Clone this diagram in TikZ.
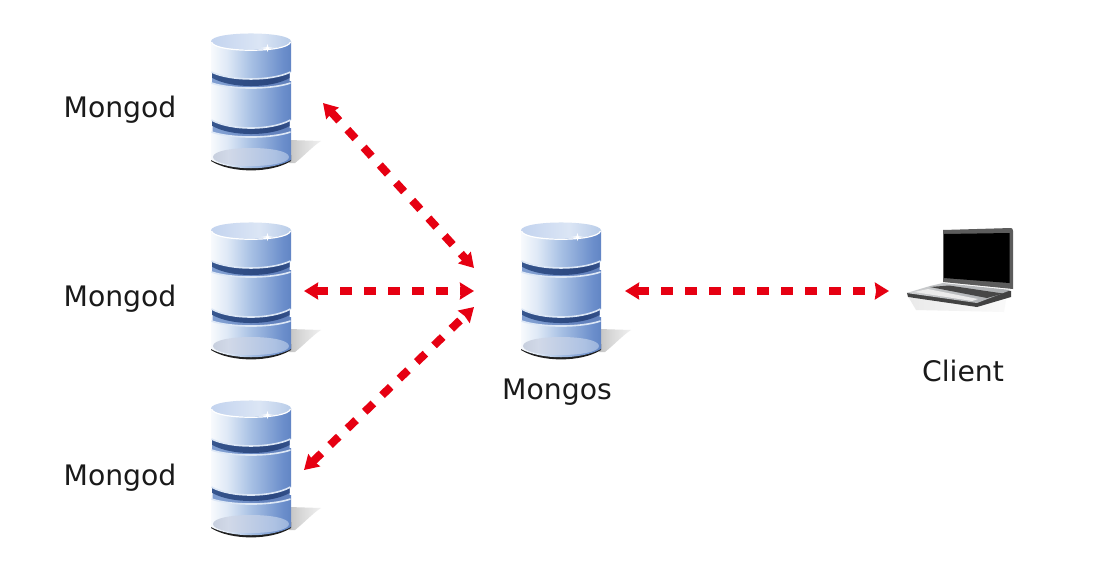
\documentclass[tikz,border=0pt]{standalone}
\usepackage{fontspec}
\setmainfont{DejaVu Sans}
\usetikzlibrary{arrows.meta}
\definecolor{linkred}{HTML}{E60012}
\definecolor{labelink}{HTML}{1A1A1A}
\definecolor{rimlight}{HTML}{DCE7F6}
\definecolor{darkgroove}{HTML}{2F4F86}
\pgfdeclarehorizontalshading{cylbody}{100bp}{
 rgb(0bp)=(.545,.663,.855); rgb(10bp)=(.776,.84,.937); rgb(22bp)=(1,1,1); rgb(35bp)=(.875,.914,.965);
 rgb(50bp)=(.655,.753,.894); rgb(70bp)=(.42,.557,.796); rgb(88bp)=(.29,.435,.71); rgb(100bp)=(.482,.608,.824)}
\pgfdeclarehorizontalshading{cyltop}{100bp}{
 rgb(0bp)=(.69,.776,.91); rgb(30bp)=(.78,.84,.94); rgb(55bp)=(.86,.9,.96); rgb(80bp)=(.69,.776,.9); rgb(100bp)=(.56,.67,.85)}
\pgfdeclarehorizontalshading{cylgroove}{100bp}{
 rgb(0bp)=(.5,.62,.82); rgb(30bp)=(.5,.62,.82); rgb(60bp)=(.4,.52,.75); rgb(100bp)=(.36,.49,.72)}
\pgfdeclarehorizontalshading{cylcrescent}{100bp}{
 rgb(0bp)=(.32,.45,.68); rgb(30bp)=(.2,.32,.54); rgb(65bp)=(.17,.28,.5); rgb(100bp)=(.28,.4,.64)}
\pgfdeclarehorizontalshading{cylfloor}{100bp}{
 rgb(0bp)=(.69,.72,.78); rgb(35bp)=(.82,.85,.91); rgb(65bp)=(.68,.76,.89); rgb(100bp)=(.42,.56,.79)}
\pgfdeclarehorizontalshading{cylshadow}{100bp}{
 rgb(0bp)=(.66,.66,.66); rgb(45bp)=(.85,.85,.85); rgb(90bp)=(.99,.99,.99); rgb(100bp)=(1,1,1)}
\pgfdeclarehorizontalshading{lapbase}{100bp}{
 rgb(0bp)=(.9,.9,.9); rgb(45bp)=(.74,.75,.76); rgb(100bp)=(.6,.61,.62)}
\newcommand{\cylband}[3]{%
 (0,#1) -- (0,#2) .. controls (20,#2+#3) and (60,#2+#3) .. (80,#2) -- (80,#1) -- cycle}
\newcommand{\cylnotch}[3]{%
 (1.5,#1) -- (1.5,#2) .. controls (20,#2+#3) and (60,#2+#3) .. (78.5,#2) -- (78.5,#1) -- cycle}
\newcommand{\cylarc}[2]{%
 (0.5,#1) .. controls (20,#1+#2) and (60,#1+#2) .. (79.5,#1)}
\tikzset{
 x=0.75pt,y=-0.75pt,
 link/.style={draw=linkred,line width=6pt,dash pattern=on 9pt off 9pt,
  {Stealth[length=10.5pt,width=12.5pt,inset=0.8pt,fill=linkred]}-{Stealth[length=10.5pt,width=12.5pt,inset=0.8pt,fill=linkred]}},
 lbl/.style={text=labelink,font=\fontsize{21.2}{25}\selectfont,anchor=base,inner sep=0pt},
 hitbox/.style={inner sep=0pt,minimum width=60pt,minimum height=103pt,anchor=north west},
 cyl/.pic={
  \node[hitbox] (-box) at (0,0) {};
  \shade[shading=cylshadow] (78,107) -- (110,108) .. controls (102,113) and (94,122) .. (84,130) -- (78,130) -- cycle;
  \fill[black!88] \cylband{122}{128}{12.5};
  \shade[shading=cylbody] \cylband{95}{127}{11};
  \shade[shading=cylfloor] (2,124) .. controls (2,112) and (78,112) .. (78,124) .. controls (78,136) and (2,136) .. (2,124) -- cycle;
  \shade[shading=cylgroove] \cylnotch{84}{99}{6.7};
  \shade[shading=cylcrescent] \cylnotch{84}{93}{10.7};
  \draw[rimlight,line width=1.2pt] \cylarc{99}{6.7};
  \shade[shading=cylbody] \cylband{48}{87}{10.7};
  \draw[rimlight,line width=1.2pt] \cylarc{87}{10.7};
  \shade[shading=cylgroove] \cylnotch{37}{50}{6.7};
  \shade[shading=cylcrescent] \cylnotch{37}{45}{10.7};
  \draw[rimlight,line width=1.2pt] \cylarc{50}{6.7};
  \shade[shading=cylbody] \cylband{8.5}{39}{9.3};
  \draw[rimlight,line width=1.2pt] \cylarc{39}{9.3};
  \shade[shading=cyltop] (0,8.5) .. controls (0,-2.2) and (80,-2.2) .. (80,8.5) .. controls (80,19.2) and (0,19.2) .. (0,8.5) -- cycle;
  \draw[white,line width=0.9pt] (0.5,9) .. controls (3,20) and (77,20) .. (79.5,9);
  \fill[white] (56.5,11) -- (57.4,14.2) -- (63,15) -- (57.4,15.8) -- (56.5,19) -- (55.6,15.8) -- (50,15) -- (55.6,14.2) -- cycle;
 },
 laptop/.pic={
  \node[inner sep=0pt,minimum width=80pt,minimum height=56pt,anchor=north west] (-box) at (0,0) {};
  \shade[shading=cylshadow,opacity=.35] (3,70) -- (100,72) -- (98,84) -- (10,82) -- cycle;
  \fill[black!64] (37,2) -- (105,0) .. controls (106,0) and (107,1) .. (107,3) -- (107,61) -- (37,54) -- cycle;
  \fill[black] (38,6) -- (103.5,5) -- (103.5,55) -- (38,50) -- cycle;
  \fill[black!74] (1,65) -- (2,69) -- (71,79) -- (105,69) -- (105,63) -- cycle;
  \shade[shading=lapbase] (0.7,65) -- (24,58) -- (37,55) -- (105,62) -- (71,75) -- cycle;
  \fill[black!72] (24,59) -- (43,57.5) -- (97,65.5) -- (81,70) -- cycle;
  \fill[black!8] (8,64) -- (22,61) -- (72,71) -- (66,73) -- cycle;
 }
}
\begin{document}
\begin{tikzpicture}
\useasboundingbox[fill=white] (0,0) rectangle (1102,579);
\pic (d1) at (211,33) {cyl};
\pic (d2) at (211,222) {cyl};
\pic (d3) at (211,400) {cyl};
\pic (s) at (521,222) {cyl};
\pic (c) at (906,228) {laptop};
\node[lbl] (l1) at (120,117) {Mongod};
\node[lbl] (l2) at (120,306) {Mongod};
\node[lbl] (l3) at (120,485) {Mongod};
\node[lbl] (l4) at (557,399) {Mongos};
\node[lbl] (l5) at (963,381) {Client};
\coordinate (d1p) at (323,103);
\coordinate (d2p) at (304,291);
\coordinate (d3p) at (304,470);
\coordinate (su) at (474,268);
\coordinate (sm) at (474,291);
\coordinate (sd) at (474,307);
\coordinate (sr) at (625,291);
\coordinate (cp) at (889,291);
\draw[link] (d1p) -- (su);
\draw[link] (d2p) -- (sm);
\draw[link] (d3p) -- (sd);
\draw[link] (sr) -- (cp);
\end{tikzpicture}
\end{document}
